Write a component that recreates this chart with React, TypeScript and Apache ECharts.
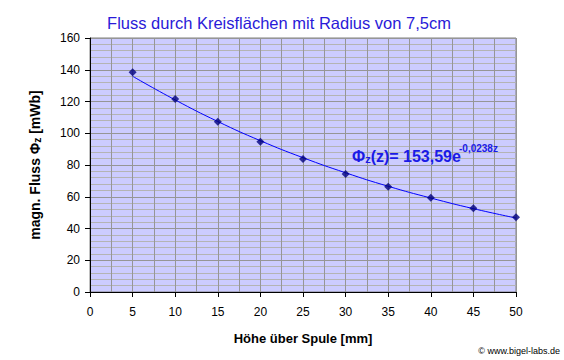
import React, { useEffect, useRef } from "react";
import * as echarts from "echarts";

const heights = [5, 10, 15, 20, 25, 30, 35, 40, 45, 50];
const fluxValues = [138.5, 121.5, 107.2, 94.6, 83.8, 74.4, 66.3, 59.3, 52.8, 47.1];
const trendValues = [135.9, 121.0, 107.4, 95.3, 84.6, 75.1, 66.6, 59.2, 52.5, 46.6];
const titleText = "Fluss durch Kreisflächen mit Radius von 7,5cm";
const xName = "Höhe über Spule [mm]";
const credit = "© www.bigel-labs.de";

export default function App() {
  const ref = useRef<HTMLDivElement>(null);
  useEffect(() => {
    if (!ref.current) return;
    const chart = echarts.init(ref.current, null, { renderer: "svg" });
    const font = "Liberation Sans, Arial, sans-serif";
    chart.setOption({
      animation: false,
      backgroundColor: "#ffffff",
      textStyle: { fontFamily: font },
      title: {
        text: titleText,
        left: 274,
        textAlign: "center",
        top: 9,
        textStyle: { color: "#2a1ad8", fontSize: 16.5, fontWeight: "normal", fontFamily: font },
      },
      grid: { left: 90, right: 48, top: 38, bottom: 68, show: true, backgroundColor: "#ccccff", borderColor: "#808080", borderWidth: 1 },
      xAxis: {
        type: "value",
        min: 0,
        max: 50,
        interval: 5,
        name: xName,
        nameLocation: "middle",
        nameGap: 40,
        nameTextStyle: { fontWeight: "bold", fontSize: 13, color: "#000", fontFamily: font },
        axisLine: { show: true, onZero: false, lineStyle: { color: "#000", width: 1 } },
        axisTick: { show: true, length: 5, lineStyle: { color: "#000" } },
        axisLabel: { color: "#000", fontSize: 12, margin: 14 },
        splitLine: { show: true, lineStyle: { color: "#969696", width: 1 } },
        minorTick: { show: false, splitNumber: 2 },
        minorSplitLine: { show: true, lineStyle: { color: "#969696", width: 1 } },
      },
      yAxis: {
        type: "value",
        min: 0,
        max: 160,
        interval: 20,
        name: "{m|magn. Fluss Φ}{s|z}{m| [mWb]}",
        nameLocation: "middle",
        nameGap: 48,
        nameRotate: 90,
        nameTextStyle: {
          rich: {
            m: { fontWeight: "bold", fontSize: 14, color: "#000", fontFamily: font },
            s: { fontWeight: "bold", fontSize: 10, color: "#000", fontFamily: font, verticalAlign: "bottom", padding: [4, 0, 0, 0] },
          },
        },
        axisLine: { show: true, lineStyle: { color: "#000", width: 1 } },
        axisTick: { show: true, length: 5, lineStyle: { color: "#000" } },
        axisLabel: { color: "#000", fontSize: 12, margin: 10 },
        splitLine: { show: true, lineStyle: { color: "#969696", width: 1 } },
        minorTick: { show: false, splitNumber: 5 },
        minorSplitLine: { show: true, lineStyle: { color: "#b4b4b4", width: 1 } },
      },
      series: [
        {
          type: "line",
          name: "Trend",
          data: heights.map((h, i) => [h, trendValues[i]]),
          smooth: true,
          showSymbol: false,
          lineStyle: { color: "#0000ff", width: 1 },
          z: 2,
        },
        {
          type: "scatter",
          name: "Messwerte",
          data: heights.map((h, i) => [h, fluxValues[i]]),
          symbol: "diamond",
          symbolSize: 8,
          itemStyle: { color: "#000080" },
          z: 3,
        },
      ],
      graphic: [
        {
          type: "text",
          left: 352,
          top: 148,
          z: 10,
          style: {
            text: "{m|Φ}{s|z}{m|(z)= 153,59e}",
            rich: {
              m: { fontSize: 16, fontWeight: "bold", fill: "#1a1ae6", fontFamily: font, verticalAlign: "bottom" },
              s: { fontSize: 11, fontWeight: "bold", fill: "#1a1ae6", fontFamily: font, verticalAlign: "bottom" },
            },
          },
        },
        {
          type: "text",
          left: 459,
          top: 143,
          z: 10,
          style: { text: "-0,0238z", fontSize: 10, fontWeight: "bold", fill: "#1a1ae6", fontFamily: font },
        },
        {
          type: "text",
          right: 4,
          top: 346,
          style: { text: credit, fontSize: 9, fill: "#000", fontFamily: font },
        },
      ],
    });
    return () => chart.dispose();
  }, []);
  return <div ref={ref} style={{ width: 564, height: 360, position: "absolute", left: 0, top: 0 }} />;
}
